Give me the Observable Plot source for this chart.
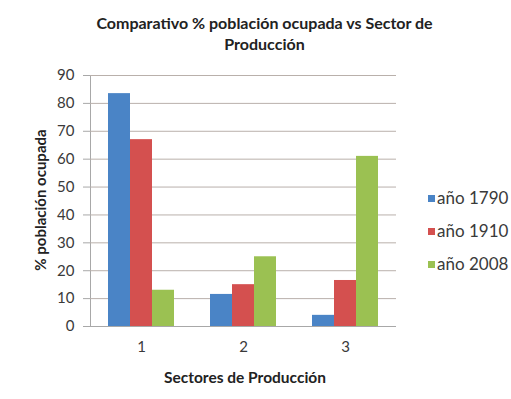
<!DOCTYPE html>
<html><head><meta charset="utf-8">
<script src="https://cdn.jsdelivr.net/npm/d3@7"></script>
<script src="https://cdn.jsdelivr.net/npm/@observablehq/plot@0.6"></script>
<style>
body{margin:0;background:#fff;font-family:Lato,"Open Sans",sans-serif;}
#wrap{position:relative;width:511px;height:399px;overflow:hidden;background:#fff;}
#title{height:60px;box-sizing:border-box;padding-top:12px;text-align:center;padding-left:18px;font-weight:bold;font-size:16px;line-height:21px;color:#222;}
#chart svg text{fill:#3a3a3a;}
#ylab{position:absolute;left:40px;top:200px;transform:translate(-50%,-50%) rotate(-90deg);white-space:nowrap;font-weight:bold;font-size:15px;color:#222;}
#xlab{position:absolute;left:245px;top:377px;transform:translate(-50%,-50%);white-space:nowrap;font-weight:bold;font-size:15.5px;color:#222;}
#legend{position:absolute;left:428px;top:187px;font-size:17px;color:#3a3a3a;}
#legend div{height:33px;line-height:21px;white-space:nowrap;}
#legend span.sw{display:inline-block;width:7px;height:7px;margin-right:2px;vertical-align:2px;}
</style></head><body>
<div id="wrap">
<div id="title">Comparativo % población ocupada vs Sector de<br>Producción</div>
<div id="chart"></div>
<div id="ylab">% población ocupada</div>
<div id="xlab">Sectores de Producción</div>
<div id="legend"></div>
</div>
<script>
const sectors = ["1", "2", "3"];
const series = ["año 1790", "año 1910", "año 2008"];
const v1790 = [83.5, 11.5, 4];
const v1910 = [67, 15, 16.5];
const v2008 = [13, 25, 61];
const colors = ["#4a84c6", "#d4504f", "#9bc152"];
const yTicks = [0, 10, 20, 30, 40, 50, 60, 70, 80, 90];

const valuesBySeries = [v1790, v1910, v2008];
const data = sectors.flatMap((s, i) => series.map((name, k) => ({sector: s, serie: name, value: valuesBySeries[k][i]})));

const chart = Plot.plot({
  width: 511, height: 339,
  marginTop: 15, marginBottom: 73, marginLeft: 89, marginRight: 114,
  style: {fontFamily: 'Lato, "Open Sans", sans-serif', fontSize: "15px", color: "#a8a8a8", background: "transparent"},
  fx: {domain: sectors, padding: 0, label: null, tickSize: 0, tickPadding: 15},
  x: {domain: series, axis: null, paddingInner: 0, paddingOuter: 0.73},
  y: {domain: [0, 90], ticks: yTicks, tickSize: 7, tickPadding: 9, label: null, line: true},
  color: {domain: series, range: colors},
  marks: [
    Plot.ruleY(yTicks, {stroke: "#b9b0ab", strokeWidth: 1}),
    Plot.barY(data, {fx: "sector", x: "serie", y: "value", fill: "serie"}),
    Plot.ruleY([0], {stroke: "#a8a8a8"})
  ]
});
document.getElementById("chart").appendChild(chart);

const legend = document.getElementById("legend");
series.forEach((name, k) => {
  const row = document.createElement("div");
  const sw = document.createElement("span");
  sw.className = "sw";
  sw.style.background = colors[k];
  row.appendChild(sw);
  row.appendChild(document.createTextNode(name));
  legend.appendChild(row);
});
</script>
</body></html>
